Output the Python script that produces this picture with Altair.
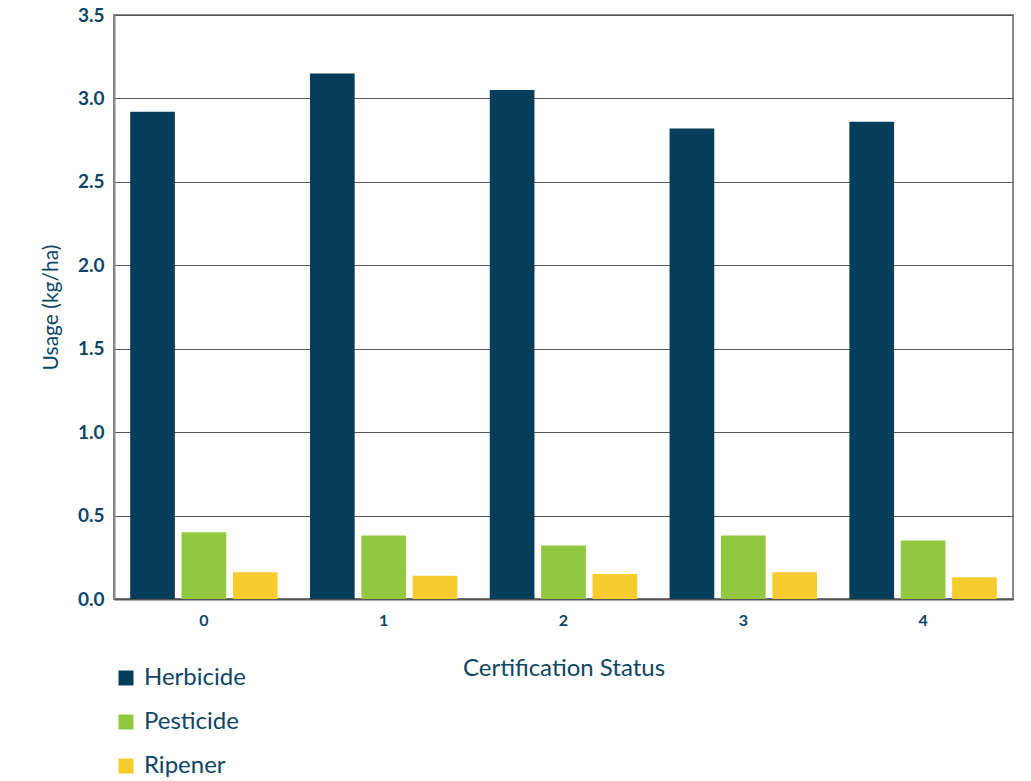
import altair as alt
import pandas as pd

statuses = ["0", "1", "2", "3", "4"]
series = ["Herbicide", "Pesticide", "Ripener"]
herbicide = [2.92, 3.15, 3.05, 2.82, 2.86]
pesticide = [0.40, 0.38, 0.32, 0.38, 0.35]
ripener = [0.16, 0.14, 0.15, 0.16, 0.13]
y_ticks = [0.0, 0.5, 1.0, 1.5, 2.0, 2.5, 3.0, 3.5]
colors = ["#063d5b", "#92c740", "#f6cb2e"]

rows = []
for name, vals in zip(series, [herbicide, pesticide, ripener]):
    for s, v in zip(statuses, vals):
        rows.append({"status": s, "type": name, "usage": v})
df = pd.DataFrame(rows)

text_color = "#0d4566"
font = "Lato"

chart = alt.Chart(df).mark_bar().encode(
    x=alt.X(
        "status:N", sort=statuses, title="Certification Status",
        scale=alt.Scale(paddingInner=0.18, paddingOuter=0.09),
        axis=alt.Axis(labelAngle=0, ticks=False, labelPadding=13, titlePadding=28,
                      domainColor="#555555", domainWidth=2,
                      labelFontSize=16, labelFontWeight="bold",
                      titleFontSize=24, titleFontWeight="normal", grid=False),
    ),
    xOffset=alt.XOffset("type:N", sort=series, scale=alt.Scale(paddingInner=0.13)),
    y=alt.Y(
        "usage:Q", title="Usage (kg/ha)", scale=alt.Scale(domain=[0, 3.5]),
        axis=alt.Axis(values=y_ticks, format=".1f", ticks=False, labelPadding=10,
                      titlePadding=16, domainColor="#888888", domainWidth=2,
                      labelFontSize=19, labelFontWeight="bold",
                      titleFontSize=21, titleFontWeight="normal",
                      grid=True, gridColor="#555555", gridWidth=1),
    ),
    color=alt.Color(
        "type:N", sort=series,
        scale=alt.Scale(domain=series, range=colors),
        legend=alt.Legend(title=None, orient="none", legendX=0, legendY=651,
                          direction="vertical", symbolType="square", symbolSize=225,
                          symbolStrokeWidth=0, labelFontSize=24, rowPadding=20,
                          labelOffset=6),
    ),
).properties(
    width=899, height=584,
    autosize=alt.AutoSizeParams(type="none"),
    padding={"left": 106, "top": 7, "right": 10, "bottom": 182},
).configure_view(
    stroke="#888888", strokeWidth=2
).configure_axis(
    labelColor=text_color, titleColor=text_color, labelFont=font, titleFont=font
).configure_legend(
    labelColor=text_color, labelFont=font
)

chart.save("out.html", embed_options={"renderer": "svg", "actions": False})
